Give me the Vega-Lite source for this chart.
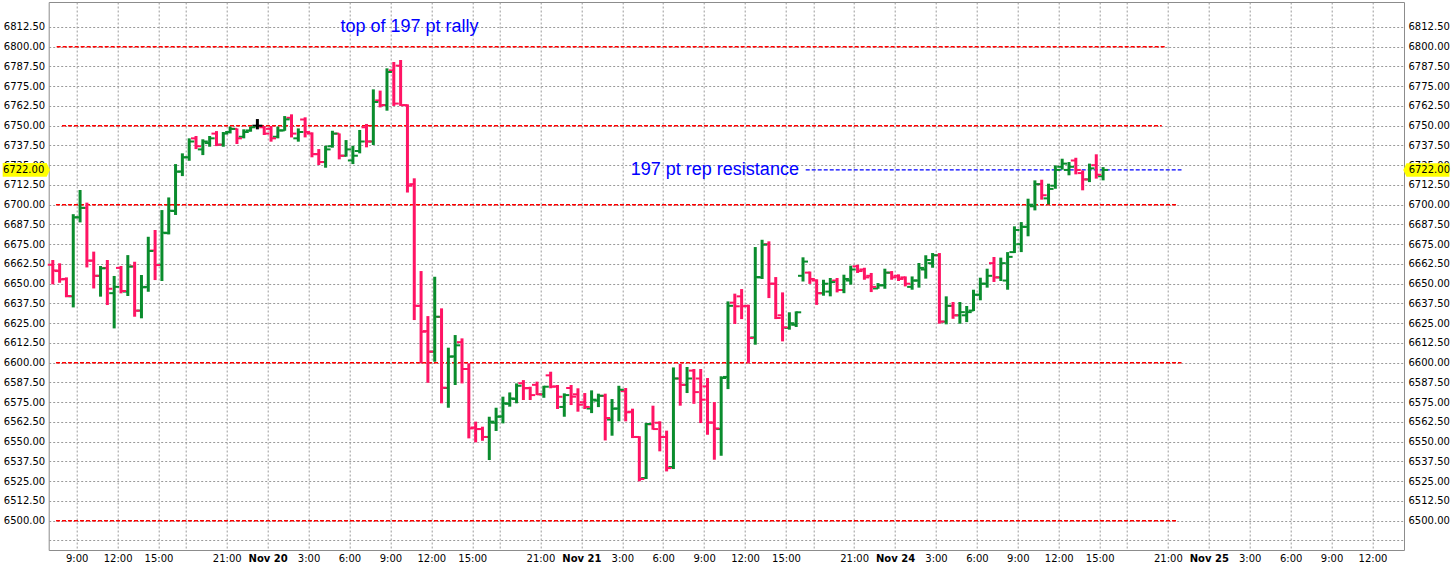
{
  "$schema": "https://vega.github.io/schema/vega-lite/v6.json",
  "width": 1355.3,
  "height": 548,
  "autosize": "none",
  "padding": {"left": 48.7, "top": 2, "right": 52, "bottom": 24},
  "background": "white",
  "config": {
    "view": {"stroke": "#8c8c8c", "strokeWidth": 1},
    "axis": {"labelFont": "DejaVu Sans", "labelFontSize": 10, "labelColor": "#000000", "ticks": false, "domain": false, "title": null, "gridColor": "#9a9a9a", "gridDash": [2, 2], "gridWidth": 1}
  },
  "datasets": {
    "bars": [
      {"n":0,"o":6662,"h":6665,"l":6649.6,"c":6658.4},
      {"n":1,"o":6658,"h":6662.9,"l":6650.6,"c":6652.7},
      {"n":2,"o":6653,"h":6654,"l":6641.4,"c":6642.2},
      {"n":3,"o":6642,"h":6694,"l":6635,"c":6692},
      {"n":4,"o":6692,"h":6709.3,"l":6688.8,"c":6698},
      {"n":5,"o":6698,"h":6701.3,"l":6660.3,"c":6664.6},
      {"n":6,"o":6664.6,"h":6670.3,"l":6647,"c":6655},
      {"n":7,"o":6655,"h":6661.2,"l":6641.8,"c":6659.7},
      {"n":8,"o":6660,"h":6665,"l":6636.5,"c":6646.8},
      {"n":9,"o":6644,"h":6654.9,"l":6621.7,"c":6648},
      {"n":10,"o":6660,"h":6661.2,"l":6643.9,"c":6645.4},
      {"n":11,"o":6645,"h":6668.1,"l":6642.2,"c":6660.8},
      {"n":12,"o":6661,"h":6663.9,"l":6629.1,"c":6632.9},
      {"n":13,"o":6633,"h":6655.5,"l":6628.1,"c":6647.7},
      {"n":14,"o":6648,"h":6679.7,"l":6644.9,"c":6670.7},
      {"n":15,"o":6671,"h":6684,"l":6652.3,"c":6661.8},
      {"n":16,"o":6662,"h":6696.6,"l":6651.7,"c":6682.3},
      {"n":17,"o":6682,"h":6704.6,"l":6681.2,"c":6696.2},
      {"n":18,"o":6696,"h":6725.7,"l":6693.5,"c":6720.9},
      {"n":19,"o":6721,"h":6732.5,"l":6718.1,"c":6730},
      {"n":20,"o":6730,"h":6742,"l":6727.8,"c":6740},
      {"n":21,"o":6742,"h":6743.5,"l":6735.2,"c":6737},
      {"n":22,"o":6735,"h":6741.4,"l":6731.4,"c":6740},
      {"n":23,"o":6739,"h":6743.5,"l":6736.7,"c":6742},
      {"n":24,"o":6745,"h":6746.6,"l":6737.1,"c":6738},
      {"n":25,"o":6738,"h":6746,"l":6736.7,"c":6745},
      {"n":26,"o":6746,"h":6749.4,"l":6745.1,"c":6748},
      {"n":27,"o":6748,"h":6748.3,"l":6738.4,"c":6742},
      {"n":28,"o":6743,"h":6747.7,"l":6742,"c":6746},
      {"n":29,"o":6747,"h":6749.4,"l":6746.2,"c":6749},
      {"n":30,"o":6750,"h":6754.2,"l":6747.7,"c":6750},
      {"n":31,"o":6749,"h":6749.8,"l":6744.1,"c":6745},
      {"n":32,"o":6748,"h":6749.8,"l":6739.9,"c":6742},
      {"n":33,"o":6743,"h":6749.4,"l":6742,"c":6747},
      {"n":34,"o":6747,"h":6756.1,"l":6746.8,"c":6754},
      {"n":35,"o":6755,"h":6757.2,"l":6742.6,"c":6745},
      {"n":36,"o":6742,"h":6748.3,"l":6739.9,"c":6746},
      {"n":37,"o":6754,"h":6755.3,"l":6742.6,"c":6746},
      {"n":38,"o":6745,"h":6745.8,"l":6730,"c":6732},
      {"n":39,"o":6732,"h":6735.2,"l":6725.1,"c":6727},
      {"n":40,"o":6727,"h":6737.3,"l":6723.4,"c":6735},
      {"n":41,"o":6737,"h":6746.8,"l":6736.1,"c":6745},
      {"n":42,"o":6745,"h":6745.1,"l":6728.7,"c":6731},
      {"n":43,"o":6731,"h":6740.9,"l":6730.4,"c":6735},
      {"n":44,"o":6728,"h":6737.3,"l":6725.7,"c":6731},
      {"n":45,"o":6734,"h":6747.3,"l":6732.5,"c":6740},
      {"n":46,"o":6749,"h":6751.1,"l":6736.3,"c":6740},
      {"n":47,"o":6740,"h":6773,"l":6737.8,"c":6765},
      {"n":48,"o":6766,"h":6772.2,"l":6761.6,"c":6763},
      {"n":49,"o":6763,"h":6786.3,"l":6759.5,"c":6784},
      {"n":50,"o":6785,"h":6790.3,"l":6762.5,"c":6764},
      {"n":51,"o":6788,"h":6791.6,"l":6762.5,"c":6763},
      {"n":52,"o":6763,"h":6763.5,"l":6707.7,"c":6712},
      {"n":53,"o":6713,"h":6716.7,"l":6627,"c":6636},
      {"n":54,"o":6636,"h":6658,"l":6599.6,"c":6619.6},
      {"n":55,"o":6620,"h":6629.5,"l":6587.3,"c":6607},
      {"n":56,"o":6607,"h":6654.4,"l":6600.6,"c":6629.1},
      {"n":57,"o":6629,"h":6634.4,"l":6574.3,"c":6584.2},
      {"n":58,"o":6584,"h":6609.5,"l":6571.5,"c":6603.8},
      {"n":59,"o":6604,"h":6617.5,"l":6585.9,"c":6611},
      {"n":60,"o":6613,"h":6615.4,"l":6586.9,"c":6596},
      {"n":61,"o":6596,"h":6599.6,"l":6552.1,"c":6558.4},
      {"n":62,"o":6559,"h":6562.7,"l":6549.6,"c":6558},
      {"n":63,"o":6558,"h":6559.5,"l":6550.6,"c":6553},
      {"n":64,"o":6553,"h":6565.8,"l":6538.4,"c":6562.7},
      {"n":65,"o":6562,"h":6571.5,"l":6556.8,"c":6565.8},
      {"n":66,"o":6566,"h":6578.5,"l":6561.6,"c":6574.3},
      {"n":67,"o":6574,"h":6581.2,"l":6572.2,"c":6577.4},
      {"n":68,"o":6577,"h":6586.9,"l":6574.3,"c":6585.4},
      {"n":69,"o":6587,"h":6589,"l":6576.4,"c":6583.8},
      {"n":70,"o":6584,"h":6584.8,"l":6576.4,"c":6579.5},
      {"n":71,"o":6586,"h":6588,"l":6579.5,"c":6580},
      {"n":72,"o":6580,"h":6585.4,"l":6577.8,"c":6584.8},
      {"n":73,"o":6592,"h":6594.3,"l":6583.8,"c":6584.8},
      {"n":74,"o":6585,"h":6585.9,"l":6570.7,"c":6578.5},
      {"n":75,"o":6572,"h":6580.6,"l":6565.8,"c":6579.5},
      {"n":76,"o":6584,"h":6585.9,"l":6573.2,"c":6578.5},
      {"n":77,"o":6580,"h":6583.8,"l":6569,"c":6573.4},
      {"n":78,"o":6575,"h":6580.8,"l":6570.7,"c":6572},
      {"n":79,"o":6571,"h":6582.5,"l":6568.1,"c":6576.6},
      {"n":80,"o":6576,"h":6580.4,"l":6571.9,"c":6579.1},
      {"n":81,"o":6579,"h":6580.4,"l":6550.8,"c":6565},
      {"n":82,"o":6564,"h":6577,"l":6553.8,"c":6570.9},
      {"n":83,"o":6571,"h":6585.4,"l":6562.9,"c":6582.9},
      {"n":84,"o":6582,"h":6584,"l":6562.9,"c":6568.6},
      {"n":85,"o":6569,"h":6570.9,"l":6552.3,"c":6553},
      {"n":86,"o":6553,"h":6553.5,"l":6524.9,"c":6526.4},
      {"n":87,"o":6527,"h":6561.8,"l":6526.4,"c":6561.2},
      {"n":88,"o":6561,"h":6572.8,"l":6557.6,"c":6558},
      {"n":89,"o":6562,"h":6562.9,"l":6543.9,"c":6553},
      {"n":90,"o":6553,"h":6557,"l":6531.2,"c":6533.3},
      {"n":91,"o":6534,"h":6597,"l":6532.7,"c":6590},
      {"n":92,"o":6590,"h":6599.2,"l":6572.8,"c":6586},
      {"n":93,"o":6586,"h":6597.3,"l":6580.8,"c":6590},
      {"n":94,"o":6595,"h":6596,"l":6574,"c":6581.4},
      {"n":95,"o":6590,"h":6596,"l":6561.8,"c":6576.6},
      {"n":96,"o":6585,"h":6590.3,"l":6554.4,"c":6562.2},
      {"n":97,"o":6562,"h":6575.1,"l":6538.6,"c":6558.4},
      {"n":98,"o":6558,"h":6591.4,"l":6541.1,"c":6590.3},
      {"n":99,"o":6591,"h":6638.8,"l":6583.3,"c":6636},
      {"n":100,"o":6638,"h":6643.7,"l":6624.5,"c":6635.7},
      {"n":101,"o":6642,"h":6646.6,"l":6627.6,"c":6635.7},
      {"n":102,"o":6636,"h":6636.7,"l":6599.8,"c":6615.6},
      {"n":103,"o":6616,"h":6673.2,"l":6611.4,"c":6654.2},
      {"n":104,"o":6654,"h":6677.8,"l":6653,"c":6674.7},
      {"n":105,"o":6675,"h":6676.8,"l":6640.9,"c":6650},
      {"n":106,"o":6650,"h":6654.2,"l":6627.6,"c":6628.3},
      {"n":107,"o":6630,"h":6644.5,"l":6613.5,"c":6622.4},
      {"n":108,"o":6622,"h":6631.9,"l":6620.9,"c":6625},
      {"n":109,"o":6624,"h":6632.5,"l":6622.6,"c":6631.9},
      {"n":110,"o":6655,"h":6666.7,"l":6651.4,"c":6664},
      {"n":111,"o":6657,"h":6657.7,"l":6649.9,"c":6653},
      {"n":112,"o":6652,"h":6652.8,"l":6636.6,"c":6644},
      {"n":113,"o":6644,"h":6652.5,"l":6642.4,"c":6650},
      {"n":114,"o":6645,"h":6653.6,"l":6642,"c":6651},
      {"n":115,"o":6652,"h":6653.6,"l":6644.5,"c":6646},
      {"n":116,"o":6646,"h":6655.7,"l":6644,"c":6653},
      {"n":117,"o":6652,"h":6661.4,"l":6649.4,"c":6659},
      {"n":118,"o":6661,"h":6662,"l":6656.8,"c":6658},
      {"n":119,"o":6659,"h":6660.1,"l":6652.5,"c":6654},
      {"n":120,"o":6655,"h":6656.8,"l":6644.7,"c":6648},
      {"n":121,"o":6647,"h":6650.4,"l":6646.8,"c":6649},
      {"n":122,"o":6649,"h":6659.5,"l":6646.8,"c":6657},
      {"n":123,"o":6657,"h":6658,"l":6652.5,"c":6654},
      {"n":124,"o":6655,"h":6655.9,"l":6651.7,"c":6653},
      {"n":125,"o":6654,"h":6654.6,"l":6648.3,"c":6650},
      {"n":126,"o":6648,"h":6654.6,"l":6646.2,"c":6652},
      {"n":127,"o":6652,"h":6663.1,"l":6647.5,"c":6660},
      {"n":128,"o":6659,"h":6668,"l":6653.2,"c":6665},
      {"n":129,"o":6663,"h":6669.4,"l":6660.1,"c":6668},
      {"n":130,"o":6668,"h":6669.4,"l":6624.7,"c":6626},
      {"n":131,"o":6626,"h":6642,"l":6624.3,"c":6636},
      {"n":132,"o":6636,"h":6638.4,"l":6627.8,"c":6630},
      {"n":133,"o":6630,"h":6638.4,"l":6624.7,"c":6632},
      {"n":134,"o":6630,"h":6635.9,"l":6625.7,"c":6632},
      {"n":135,"o":6633,"h":6646.2,"l":6632.7,"c":6643},
      {"n":136,"o":6643,"h":6653.8,"l":6639.5,"c":6650},
      {"n":137,"o":6650,"h":6659.5,"l":6647.5,"c":6655},
      {"n":138,"o":6663,"h":6666.9,"l":6651.1,"c":6654},
      {"n":139,"o":6654,"h":6666.5,"l":6651.7,"c":6663},
      {"n":140,"o":6652,"h":6670,"l":6646.2,"c":6667},
      {"n":141,"o":6670,"h":6686.3,"l":6669.4,"c":6684},
      {"n":142,"o":6675,"h":6689,"l":6670,"c":6686},
      {"n":143,"o":6686,"h":6703.8,"l":6680,"c":6700},
      {"n":144,"o":6699,"h":6715.4,"l":6696.4,"c":6713},
      {"n":145,"o":6713,"h":6715.8,"l":6703.2,"c":6706},
      {"n":146,"o":6704,"h":6713.3,"l":6700.2,"c":6710},
      {"n":147,"o":6712,"h":6724.9,"l":6710.1,"c":6722},
      {"n":148,"o":6724,"h":6729.1,"l":6722.2,"c":6726},
      {"n":149,"o":6722,"h":6727,"l":6718.6,"c":6724},
      {"n":150,"o":6728,"h":6729.7,"l":6719.2,"c":6722},
      {"n":151,"o":6720,"h":6721.7,"l":6709.1,"c":6716},
      {"n":152,"o":6716,"h":6726,"l":6714.3,"c":6723},
      {"n":153,"o":6725,"h":6731.9,"l":6716.5,"c":6719},
      {"n":154,"o":6718,"h":6723.8,"l":6715.4,"c":6722}
    ],
    "levels": [
      {"p": 6800, "n": 0.57, "n2": 163.2},
      {"p": 6750, "n": 1.35, "n2": 162.6},
      {"p": 6700, "n": 0.47, "n2": 164.9},
      {"p": 6600, "n": 0.47, "n2": 165.5},
      {"p": 6500, "n": 0.47, "n2": 164.8}
    ],
    "rep": [
      {"p": 6722, "n": 110.4, "n2": 165.5}
    ],
    "notes_top": [
      {"p": 6809.1, "n": 52.3, "text": "top of 197 pt rally"}
    ],
    "notes_rep": [
      {"p": 6718.8, "n": 109.4, "text": "197 pt rep resistance"}
    ],
    "last": [
      {"p": 6722, "label": "6722.00"}
    ]
  },
  "layer": [
    {
      "data": {"name": "levels"},
      "mark": {"type": "rule", "color": "#ff0000", "strokeDash": [4, 2], "strokeWidth": 1.6},
      "encoding": {
        "x": {"field": "n", "type": "quantitative", "scale": {"domain": [-0.6, 198.12], "nice": false, "zero": false}, "axis": {"title": null}},
        "x2": {"field": "n2"},
        "y": {"field": "p", "type": "quantitative", "scale": {"domain": [6481.46, 6828.29], "nice": false, "zero": false}, "axis": null}
      }
    },
    {
      "data": {"name": "rep"},
      "mark": {"type": "rule", "color": "#0000ff", "strokeDash": [4, 2], "strokeWidth": 1.3},
      "encoding": {
        "x": {"field": "n", "type": "quantitative", "scale": {"domain": [-0.6, 198.12], "nice": false, "zero": false}, "axis": {"title": null}},
        "x2": {"field": "n2"},
        "y": {"field": "p", "type": "quantitative", "scale": {"domain": [6481.46, 6828.29], "nice": false, "zero": false}, "axis": null}
      }
    },
    {
      "data": {"name": "bars"},
      "mark": {"type": "rule", "strokeWidth": 3},
      "encoding": {
        "x": {
          "field": "n",
          "type": "quantitative",
          "scale": {"domain": [-0.6, 198.12], "nice": false, "zero": false},
          "axis": {
            "title": null,
            "orient": "bottom",
            "values": [3.5,9.5,15.5,19.5,25.5,31.5,37.5,43.5,49.5,55.5,61.5,65.5,71.5,77.5,83.5,89.5,95.5,101.5,107.5,111.5,117.5,123.5,129.5,135.5,141.5,147.5,153.5,157.5,163.5,169.5,175.5,181.5,187.5,193.5],
            "labelExpr": "datum.value == 3.5 ? '9:00' : datum.value == 9.5 ? '12:00' : datum.value == 15.5 ? '15:00' : datum.value == 25.5 ? '21:00' : datum.value == 31.5 ? 'Nov 20' : datum.value == 37.5 ? '3:00' : datum.value == 43.5 ? '6:00' : datum.value == 49.5 ? '9:00' : datum.value == 55.5 ? '12:00' : datum.value == 61.5 ? '15:00' : datum.value == 71.5 ? '21:00' : datum.value == 77.5 ? 'Nov 21' : datum.value == 83.5 ? '3:00' : datum.value == 89.5 ? '6:00' : datum.value == 95.5 ? '9:00' : datum.value == 101.5 ? '12:00' : datum.value == 107.5 ? '15:00' : datum.value == 117.5 ? '21:00' : datum.value == 123.5 ? 'Nov 24' : datum.value == 129.5 ? '3:00' : datum.value == 135.5 ? '6:00' : datum.value == 141.5 ? '9:00' : datum.value == 147.5 ? '12:00' : datum.value == 153.5 ? '15:00' : datum.value == 163.5 ? '21:00' : datum.value == 169.5 ? 'Nov 25' : datum.value == 175.5 ? '3:00' : datum.value == 181.5 ? '6:00' : datum.value == 187.5 ? '9:00' : datum.value == 193.5 ? '12:00' : ''",
            "labelFontWeight": {"condition": {"test": "datum.value == 31.5 || datum.value == 77.5 || datum.value == 123.5 || datum.value == 169.5", "value": "bold"}, "value": "normal"},
            "grid": true,
            "labelPadding": 3,
            "labelOverlap": false,
            "labelFlush": false,
            "labelBound": false
          }
        },
        "y": {
          "field": "l", "type": "quantitative",
          "scale": {"domain": [6481.46, 6828.29], "nice": false, "zero": false},
          "axis": {
            "orient": "left",
            "values": [6487.5,6500,6512.5,6525,6537.5,6550,6562.5,6575,6587.5,6600,6612.5,6625,6637.5,6650,6662.5,6675,6687.5,6700,6712.5,6725,6737.5,6750,6762.5,6775,6787.5,6800,6812.5],
            "labelExpr": "datum.value < 6490 ? '' : format(datum.value, '.2f')",
            "grid": true,
            "labelPadding": 4
          }
        },
        "y2": {"field": "h"},
        "color": {"condition": [{"test": "datum.c > datum.o", "value": "#0a8c2d"}, {"test": "datum.c < datum.o", "value": "#ff1464"}], "value": "#000000"}
      }
    },
    {
      "data": {"name": "bars"},
      "mark": {"type": "tick", "orient": "horizontal", "size": 5, "thickness": 2, "xOffset": -2.5, "opacity": 1},
      "encoding": {
        "x": {"field": "n", "type": "quantitative", "scale": {"domain": [-0.6, 198.12], "nice": false, "zero": false}, "axis": {"title": null}},
        "y": {"field": "o", "type": "quantitative", "scale": {"domain": [6481.46, 6828.29], "nice": false, "zero": false}, "axis": null},
        "color": {"condition": [{"test": "datum.c > datum.o", "value": "#0a8c2d"}, {"test": "datum.c < datum.o", "value": "#ff1464"}], "value": "#000000"}
      }
    },
    {
      "data": {"name": "bars"},
      "mark": {"type": "tick", "orient": "horizontal", "size": 5, "thickness": 2, "xOffset": 2.5, "opacity": 1},
      "encoding": {
        "x": {"field": "n", "type": "quantitative", "scale": {"domain": [-0.6, 198.12], "nice": false, "zero": false}, "axis": {"title": null}},
        "y": {
          "field": "c", "type": "quantitative",
          "scale": {"domain": [6481.46, 6828.29], "nice": false, "zero": false},
          "axis": {
            "orient": "right",
            "values": [6500,6512.5,6525,6537.5,6550,6562.5,6575,6587.5,6600,6612.5,6625,6637.5,6650,6662.5,6675,6687.5,6700,6712.5,6725,6737.5,6750,6762.5,6775,6787.5,6800,6812.5],
            "labelExpr": "format(datum.value, '.2f')",
            "grid": false,
            "labelPadding": 4
          }
        },
        "color": {"condition": [{"test": "datum.c > datum.o", "value": "#0a8c2d"}, {"test": "datum.c < datum.o", "value": "#ff1464"}], "value": "#000000"}
      }
    },
    {
      "data": {"name": "notes_top"},
      "mark": {"type": "text", "font": "Liberation Sans", "fontSize": 18, "color": "#0000ff", "align": "center", "baseline": "alphabetic"},
      "encoding": {
        "x": {"field": "n", "type": "quantitative", "scale": {"domain": [-0.6, 198.12], "nice": false, "zero": false}, "axis": {"title": null}},
        "y": {"field": "p", "type": "quantitative", "scale": {"domain": [6481.46, 6828.29], "nice": false, "zero": false}, "axis": null},
        "text": {"field": "text"}
      }
    },
    {
      "data": {"name": "notes_rep"},
      "mark": {"type": "text", "font": "Liberation Sans", "fontSize": 18, "color": "#0000ff", "align": "right", "baseline": "alphabetic"},
      "encoding": {
        "x": {"field": "n", "type": "quantitative", "scale": {"domain": [-0.6, 198.12], "nice": false, "zero": false}, "axis": {"title": null}},
        "y": {"field": "p", "type": "quantitative", "scale": {"domain": [6481.46, 6828.29], "nice": false, "zero": false}, "axis": null},
        "text": {"field": "text"}
      }
    },
    {
      "data": {"name": "last"},
      "mark": {"type": "point", "shape": "M-1,-0.29L0.86,-0.29L1,0L0.86,0.29L-1,0.29Z", "size": 2237, "filled": true, "color": "#ffff00", "opacity": 1, "strokeWidth": 0, "clip": false},
      "encoding": {
        "x": {"datum": -3.88, "type": "quantitative", "scale": {"domain": [-0.6, 198.12], "nice": false, "zero": false}, "axis": {"title": null}},
        "y": {"field": "p", "type": "quantitative", "scale": {"domain": [6481.46, 6828.29], "nice": false, "zero": false}, "axis": null}
      }
    },
    {
      "data": {"name": "last"},
      "mark": {"type": "point", "shape": "M1,-0.29L-0.86,-0.29L-1,0L-0.86,0.29L1,0.29Z", "size": 2134, "filled": true, "color": "#ffff00", "opacity": 1, "strokeWidth": 0, "clip": false},
      "encoding": {
        "x": {"datum": 201.4, "type": "quantitative", "scale": {"domain": [-0.6, 198.12], "nice": false, "zero": false}, "axis": {"title": null}},
        "y": {"field": "p", "type": "quantitative", "scale": {"domain": [6481.46, 6828.29], "nice": false, "zero": false}, "axis": null}
      }
    },
    {
      "data": {"name": "last"},
      "mark": {"type": "text", "font": "DejaVu Sans", "fontSize": 10, "color": "#000000", "align": "right", "baseline": "middle", "clip": false},
      "encoding": {
        "x": {"datum": -1.25, "type": "quantitative", "scale": {"domain": [-0.6, 198.12], "nice": false, "zero": false}, "axis": {"title": null}},
        "y": {"field": "p", "type": "quantitative", "scale": {"domain": [6481.46, 6828.29], "nice": false, "zero": false}, "axis": null},
        "text": {"field": "label"}
      }
    },
    {
      "data": {"name": "last"},
      "mark": {"type": "text", "font": "DejaVu Sans", "fontSize": 10, "color": "#000000", "align": "left", "baseline": "middle", "clip": false},
      "encoding": {
        "x": {"datum": 198.8, "type": "quantitative", "scale": {"domain": [-0.6, 198.12], "nice": false, "zero": false}, "axis": {"title": null}},
        "y": {"field": "p", "type": "quantitative", "scale": {"domain": [6481.46, 6828.29], "nice": false, "zero": false}, "axis": null},
        "text": {"field": "label"}
      }
    }
  ],
  "resolve": {"axis": {"y": "independent"}}
}
